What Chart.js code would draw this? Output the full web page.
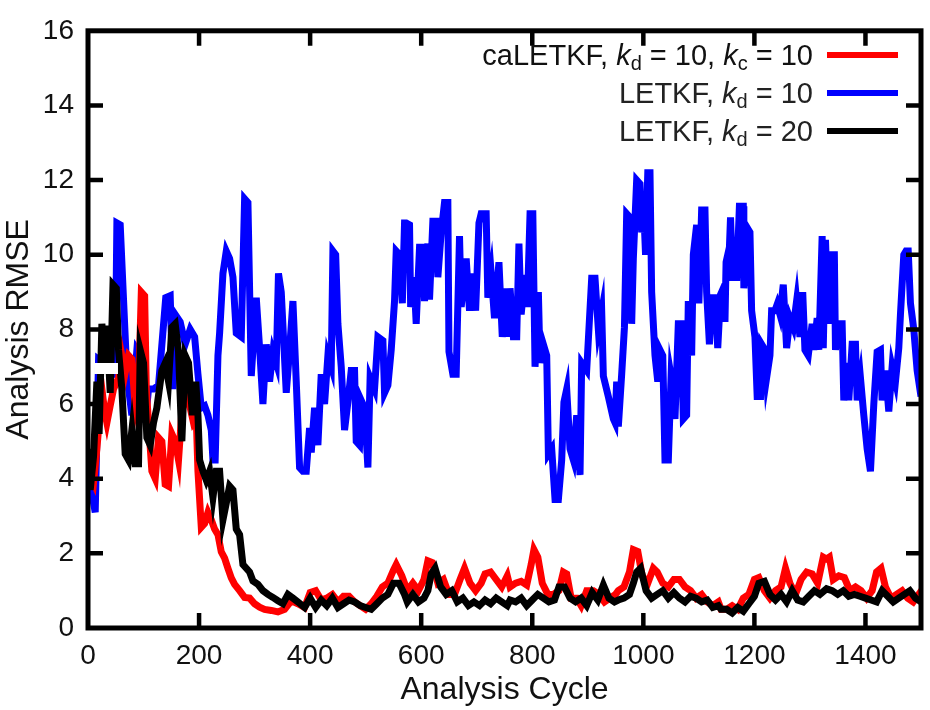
<!DOCTYPE html>
<html>
<head>
<meta charset="utf-8">
<script src="https://cdn.jsdelivr.net/npm/chart.js@4.4.1/dist/chart.umd.min.js"></script>
<style>
  body { margin: 0; background: #fff; }
  #wrap { position: relative; width: 930px; height: 710px; }
  #legend {
    position: absolute; right: 32px; top: 36px;
    font-family: "Liberation Sans", Arial, sans-serif; font-size: 29px; color: #222;
  }
  #legend .row { display: flex; align-items: center; justify-content: flex-end; height: 38px; white-space: pre; }
  #legend .row i { font-style: italic; }
  #legend .row .sub { font-size: 20px; position: relative; top: 8px; }
  #legend .swatch { width: 71px; height: 6px; margin-left: 14px; }
</style>
</head>
<body>
<div id="wrap">
  <canvas id="myChart" width="930" height="710"></canvas>
  <div id="legend">
    <div class="row" style="color:#111">caLETKF, <i>k</i><span class="sub">d</span> = 10, <i>k</i><span class="sub">c</span> = 10<span class="swatch" style="background:#ff0000"></span></div>
    <div class="row">LETKF, <i>k</i><span class="sub">d</span> = 10<span class="swatch" style="background:#0000ff"></span></div>
    <div class="row">LETKF, <i>k</i><span class="sub">d</span> = 20<span class="swatch" style="background:#000000"></span></div>
  </div>
</div>
<script>
// LETKF, kd = 10 (blue)
const letkf10Cycle = [0,7,13,19,28,37,49,52,58,64,70,79,88,94,98,103,109,118,127,140,148,153,157,166,175,184,192,198,204,210,216,222,225,229,234,237,243,249,255,261,267,276,282,288,294,303,309,315,321,327,333,339,343,348,357,363,369,375,381,387,393,399,402,408,414,420,426,432,438,441,446,450,456,462,468,474,480,483,489,492,498,504,508,516,522,531,534,540,546,552,555,561,566,570,573,579,581,587,591,597,603,606,612,615,621,627,630,636,642,648,650,657,663,669,672,681,687,693,698,704,708,717,720,726,732,740,746,754,757,760,766,772,776,780,787,791,796,801,805,811,814,820,826,829,835,841,847,853,857,862,868,874,880,886,889,898,907,913,919,925,928,937,946,949,952,955,961,966,970,976,979,982,988,994,997,1001,1004,1008,1012,1015,1021,1026,1030,1035,1039,1045,1050,1054,1057,1063,1068,1072,1078,1081,1087,1090,1096,1100,1105,1111,1114,1119,1123,1129,1134,1139,1144,1147,1149,1155,1157,1161,1165,1168,1173,1180,1181,1188,1192,1195,1201,1205,1211,1213,1219,1222,1228,1231,1237,1241,1246,1252,1258,1264,1270,1276,1282,1287,1291,1297,1304,1307,1313,1316,1322,1324,1328,1333,1336,1344,1346,1351,1358,1361,1367,1370,1376,1382,1385,1391,1397,1403,1409,1415,1421,1427,1430,1436,1442,1448,1454,1460,1463,1469,1473,1477,1481,1487,1493,1500];
const letkf10Rmse = [3.9,3.6,3.1,7.2,7.1,6.9,6.8,10.85,10.8,8.8,6.8,5.7,7.45,7.3,8.4,5.5,6.4,6.4,6.5,8.85,8.9,6.4,8.4,8.2,7.6,8.0,7.8,6.8,5.9,5.95,5.7,5.3,4.5,4.5,7.3,7.9,9.5,10.1,9.9,9.4,7.9,7.8,11.5,11.4,6.75,8.85,7.5,6.0,7.6,6.6,7.4,7.1,9.5,9.0,6.3,7.45,8.76,6.6,4.3,4.2,4.2,5.36,4.7,5.9,4.9,6.8,6.0,7.3,7.0,10.1,10.0,8.15,7.0,5.3,6.05,6.9,6.9,5.0,4.9,6.1,5.9,4.3,6.7,6.4,7.8,7.7,6.3,6.5,7.45,8.76,10.1,10.0,8.7,10.85,10.85,10.8,8.6,9.4,8.15,10.2,10.2,8.76,10.3,8.8,10.9,10.9,9.4,10.6,11.4,11.4,7.4,6.8,6.8,10.5,8.6,9.9,8.5,9.5,8.5,10.85,11.1,11.1,8.85,9.5,8.3,9.8,7.8,9.1,7.8,9.1,7.8,7.8,10.3,8.4,9.46,8.6,11.1,11.1,7.0,9.0,7.1,7.6,7.3,4.66,4.8,3.44,3.44,4.5,6.05,6.4,4.8,4.5,5.7,4.1,7.1,6.9,9.37,9.37,8.0,8.5,6.75,6.2,5.6,5.5,6.6,5.4,6.8,8.06,11.1,11.0,8.15,9.9,12.0,11.9,10.6,11.1,10.0,12.2,12.2,9.0,7.3,6.6,7.45,7.3,4.5,4.5,6.75,6.4,5.6,8.15,8.15,5.6,5.7,8.76,7.3,10.0,10.8,8.7,11.2,11.2,9.0,7.6,8.85,8.85,7.5,8.93,9.1,8.2,9.8,10.2,11.0,9.3,10.3,9.3,11.3,11.3,9.1,10.7,10.6,8.5,7.8,6.2,6.2,7.6,7.45,6.7,7.3,8.5,8.5,8.67,8.4,9.2,7.5,8.3,8.06,8.76,7.8,9.0,7.45,7.3,8.15,7.45,8.3,7.45,10.5,7.5,10.4,8.15,10.0,10.0,7.45,8.15,8.15,6.1,7.1,6.1,7.6,7.6,6.1,6.7,5.7,4.8,4.2,6.0,7.4,7.45,6.1,6.9,5.8,7.0,6.6,7.5,8.4,10.0,10.1,10.1,8.7,8.0,6.9,6.2];

// caLETKF, kd = 10, kc = 10 (red)
const caletkfCycle = [0,4,10,16,25,30,34,40,46,55,61,67,73,79,85,91,96,102,105,109,115,121,127,133,139,145,151,157,163,169,175,184,190,195,198,204,210,216,222,228,234,240,246,252,258,264,273,282,291,300,309,318,330,342,354,366,378,390,400,410,420,430,440,450,460,470,480,490,500,510,520,530,540,550,555,565,575,585,595,605,612,620,630,640,650,660,670,678,688,698,708,715,725,735,745,755,760,770,780,790,798,803,810,818,828,838,848,856,862,870,880,888,898,910,920,930,940,950,955,965,975,982,990,998,1008,1018,1025,1035,1045,1055,1065,1075,1085,1095,1105,1115,1125,1135,1140,1150,1160,1170,1180,1190,1200,1208,1218,1228,1238,1248,1256,1264,1274,1284,1294,1304,1314,1324,1330,1335,1342,1352,1362,1372,1382,1392,1402,1412,1420,1428,1436,1446,1456,1466,1476,1486,1496,1500];
const caletkfRmse = [4.2,4.1,3.9,4.8,6.4,5.8,5.5,5.96,6.4,6.7,7.3,6.84,7.3,7.2,5.9,6.4,9.0,8.9,6.4,5.5,4.2,4.0,5.1,5.0,3.85,3.8,5.2,5.0,4.5,5.8,6.3,5.9,5.5,5.6,4.2,2.7,2.8,3.1,2.9,2.65,2.5,2.04,1.87,1.6,1.34,1.17,1.0,0.82,0.8,0.65,0.56,0.5,0.47,0.43,0.5,0.73,0.65,0.55,0.95,1.0,0.75,0.8,0.9,0.7,0.85,0.85,0.7,0.6,0.5,0.65,0.85,1.1,1.2,1.55,1.7,1.4,1.0,1.2,1.0,1.3,1.8,1.75,1.2,1.3,0.9,0.9,1.3,1.6,1.2,1.0,1.2,1.45,1.5,1.3,1.1,1.4,1.1,1.2,1.25,1.15,1.7,2.1,1.9,1.2,0.9,0.9,1.0,1.5,1.45,0.8,0.8,0.6,1.0,1.0,0.9,0.7,0.8,0.9,1.0,1.1,1.5,2.1,2.05,1.4,1.2,1.6,1.5,1.2,1.1,1.3,1.3,1.1,1.0,0.8,0.9,0.7,0.6,0.7,0.5,0.5,0.6,0.5,0.8,0.9,1.3,1.35,1.0,0.8,1.0,1.1,1.6,1.2,0.9,1.3,1.5,1.45,1.2,1.9,1.85,1.9,1.3,1.4,1.35,1.0,1.1,1.0,0.8,1.0,1.5,1.6,1.1,0.8,0.9,1.0,0.8,0.7,0.9,0.8];

// LETKF, kd = 20 (black)
const letkf20Cycle = [0,4,10,16,20,25,31,34,40,45,51,55,61,67,73,79,85,91,94,100,106,112,118,124,133,139,145,151,157,163,169,175,181,188,194,198,201,207,213,219,225,231,237,243,249,255,261,267,273,279,285,291,297,306,315,324,333,342,351,360,369,378,390,400,410,420,430,440,450,460,470,480,490,500,510,520,530,540,550,560,570,575,585,595,605,612,618,625,635,645,655,665,675,685,695,705,715,725,735,745,755,760,770,780,790,800,810,820,830,840,848,858,868,878,888,898,908,918,928,938,948,955,965,975,982,988,995,1005,1015,1025,1035,1045,1055,1065,1075,1085,1095,1105,1115,1125,1135,1140,1150,1160,1170,1180,1190,1200,1208,1218,1228,1238,1248,1258,1268,1278,1288,1298,1308,1318,1330,1340,1350,1360,1370,1380,1390,1400,1410,1420,1430,1440,1450,1460,1470,1480,1490,1500];
const letkf20Rmse = [4.8,3.7,4.6,6.6,5.2,8.15,7.1,8.1,6.3,9.2,9.1,7.45,6.4,4.66,4.5,5.3,4.4,4.4,7.45,7.1,5.1,4.9,5.5,5.9,6.9,7.1,6.6,8.06,8.15,7.4,5.0,7.3,7.1,5.7,6.6,5.7,4.5,4.2,3.96,4.2,3.5,4.2,4.2,2.9,3.35,3.8,3.7,2.65,2.5,1.7,1.6,1.5,1.26,1.17,1.0,0.9,0.82,0.73,0.65,0.9,0.8,0.7,0.55,0.8,0.55,0.75,0.6,0.8,0.55,0.65,0.75,0.7,0.6,0.55,0.5,0.65,0.8,0.9,1.2,1.2,0.9,0.7,0.9,0.7,0.8,1.0,1.45,1.6,1.1,0.9,1.0,0.7,0.8,0.6,0.7,0.6,0.75,0.65,0.8,0.7,0.6,0.75,0.7,0.8,0.6,0.75,0.9,0.8,0.7,0.75,1.1,1.1,0.8,0.7,0.8,0.6,0.95,0.75,1.15,0.8,0.7,0.75,0.8,0.9,1.2,1.5,1.6,1.0,0.8,0.9,1.0,0.8,0.95,0.8,0.7,0.85,0.8,0.7,0.75,0.55,0.6,0.5,0.5,0.4,0.55,0.45,0.65,0.85,1.2,1.25,0.9,0.75,0.9,0.7,1.0,0.75,0.7,0.85,1.0,0.9,1.05,1.0,0.9,1.0,0.85,0.9,0.85,0.8,0.75,0.7,1.0,0.85,0.7,0.8,0.9,1.0,0.8,0.7,0.6];

// short white key segment near the left edge
const whiteKeyCycle = [11, 54];
const whiteKeyRmse = [6.95, 6.95];

const xTicks = [0, 200, 400, 600, 800, 1000, 1200, 1400];
const yTicks = [0, 2, 4, 6, 8, 10, 12, 14, 16];

function toPoints(xs, ys) {
  return xs.map((x, i) => ({ x: x, y: ys[i] }));
}

const fontFamily = '"Liberation Sans", Arial, sans-serif';

// frame + inward tick marks
const frameTicks = {
  id: 'frameTicks',
  afterDraw(chart) {
    const ctx = chart.ctx;
    const a = chart.chartArea;
    const xs = chart.scales.x, ys = chart.scales.y;
    ctx.save();
    ctx.strokeStyle = '#000';
    ctx.lineWidth = 4.5;
    ctx.lineCap = 'butt';
    ctx.beginPath();
    xTicks.forEach(v => {
      const px = xs.getPixelForValue(v);
      if (v === 0) return;
      ctx.moveTo(px, a.bottom); ctx.lineTo(px, a.bottom - 15);
      ctx.moveTo(px, a.top); ctx.lineTo(px, a.top + 15);
    });
    yTicks.forEach(v => {
      const py = ys.getPixelForValue(v);
      if (v === 0 || v === 16) return;
      ctx.moveTo(a.left, py); ctx.lineTo(a.left + 15, py);
      ctx.moveTo(a.right, py); ctx.lineTo(a.right - 15, py);
    });
    ctx.stroke();
    ctx.lineWidth = 5;
    ctx.strokeRect(a.left, a.top, a.right - a.left, a.bottom - a.top);
    ctx.restore();
  }
};

const ctx = document.getElementById('myChart').getContext('2d');
const myChart = new Chart(ctx, {
  type: 'line',
  data: {
    datasets: [
      {
        label: 'white key',
        data: toPoints(whiteKeyCycle, whiteKeyRmse),
        borderColor: '#ffffff', borderWidth: 11, borderCapStyle: 'butt',
        pointRadius: 0, order: 0
      },
      {
        label: 'LETKF, kd = 20',
        data: toPoints(letkf20Cycle, letkf20Rmse),
        borderColor: '#000000', borderWidth: 7,
        pointRadius: 0, tension: 0, order: 1
      },
      {
        label: 'caLETKF, kd = 10, kc = 10',
        data: toPoints(caletkfCycle, caletkfRmse),
        borderColor: '#ff0000', borderWidth: 7,
        pointRadius: 0, tension: 0, order: 2
      },
      {
        label: 'LETKF, kd = 10',
        data: toPoints(letkf10Cycle, letkf10Rmse),
        borderColor: '#0000ff', borderWidth: 7,
        pointRadius: 0, tension: 0, order: 3
      }
    ]
  },
  options: {
    responsive: false,
    animation: false,
    layout: { padding: { top: 16, right: 9, left: 0, bottom: 0 } },
    plugins: { legend: { display: false }, tooltip: { enabled: false } },
    scales: {
      x: {
        type: 'linear', min: 0, max: 1500,
        afterFit: s => { s.height = 82; },
        afterBuildTicks: s => { s.ticks = xTicks.map(v => ({ value: v })); },
        grid: { display: false, drawTicks: false },
        border: { display: false },
        ticks: {
          color: '#111', padding: 11, font: { family: fontFamily, size: 28 },
          callback: v => String(v)
        },
        title: {
          display: true, text: 'Analysis Cycle', color: '#111',
          padding: { top: 0, bottom: 1 },
          font: { family: fontFamily, size: 32 }
        }
      },
      y: {
        type: 'linear', min: 0, max: 16,
        afterFit: s => { s.width = 88; },
        afterBuildTicks: s => { s.ticks = yTicks.map(v => ({ value: v })); },
        grid: { display: false, drawTicks: false },
        border: { display: false },
        ticks: {
          color: '#111', padding: 14, font: { family: fontFamily, size: 28 },
          callback: v => String(v)
        },
        title: {
          display: true, text: 'Analysis RMSE', color: '#111',
          padding: { top: 0, bottom: 0 },
          font: { family: fontFamily, size: 32 }
        }
      }
    }
  },
  plugins: [frameTicks]
});
</script>
</body>
</html>
